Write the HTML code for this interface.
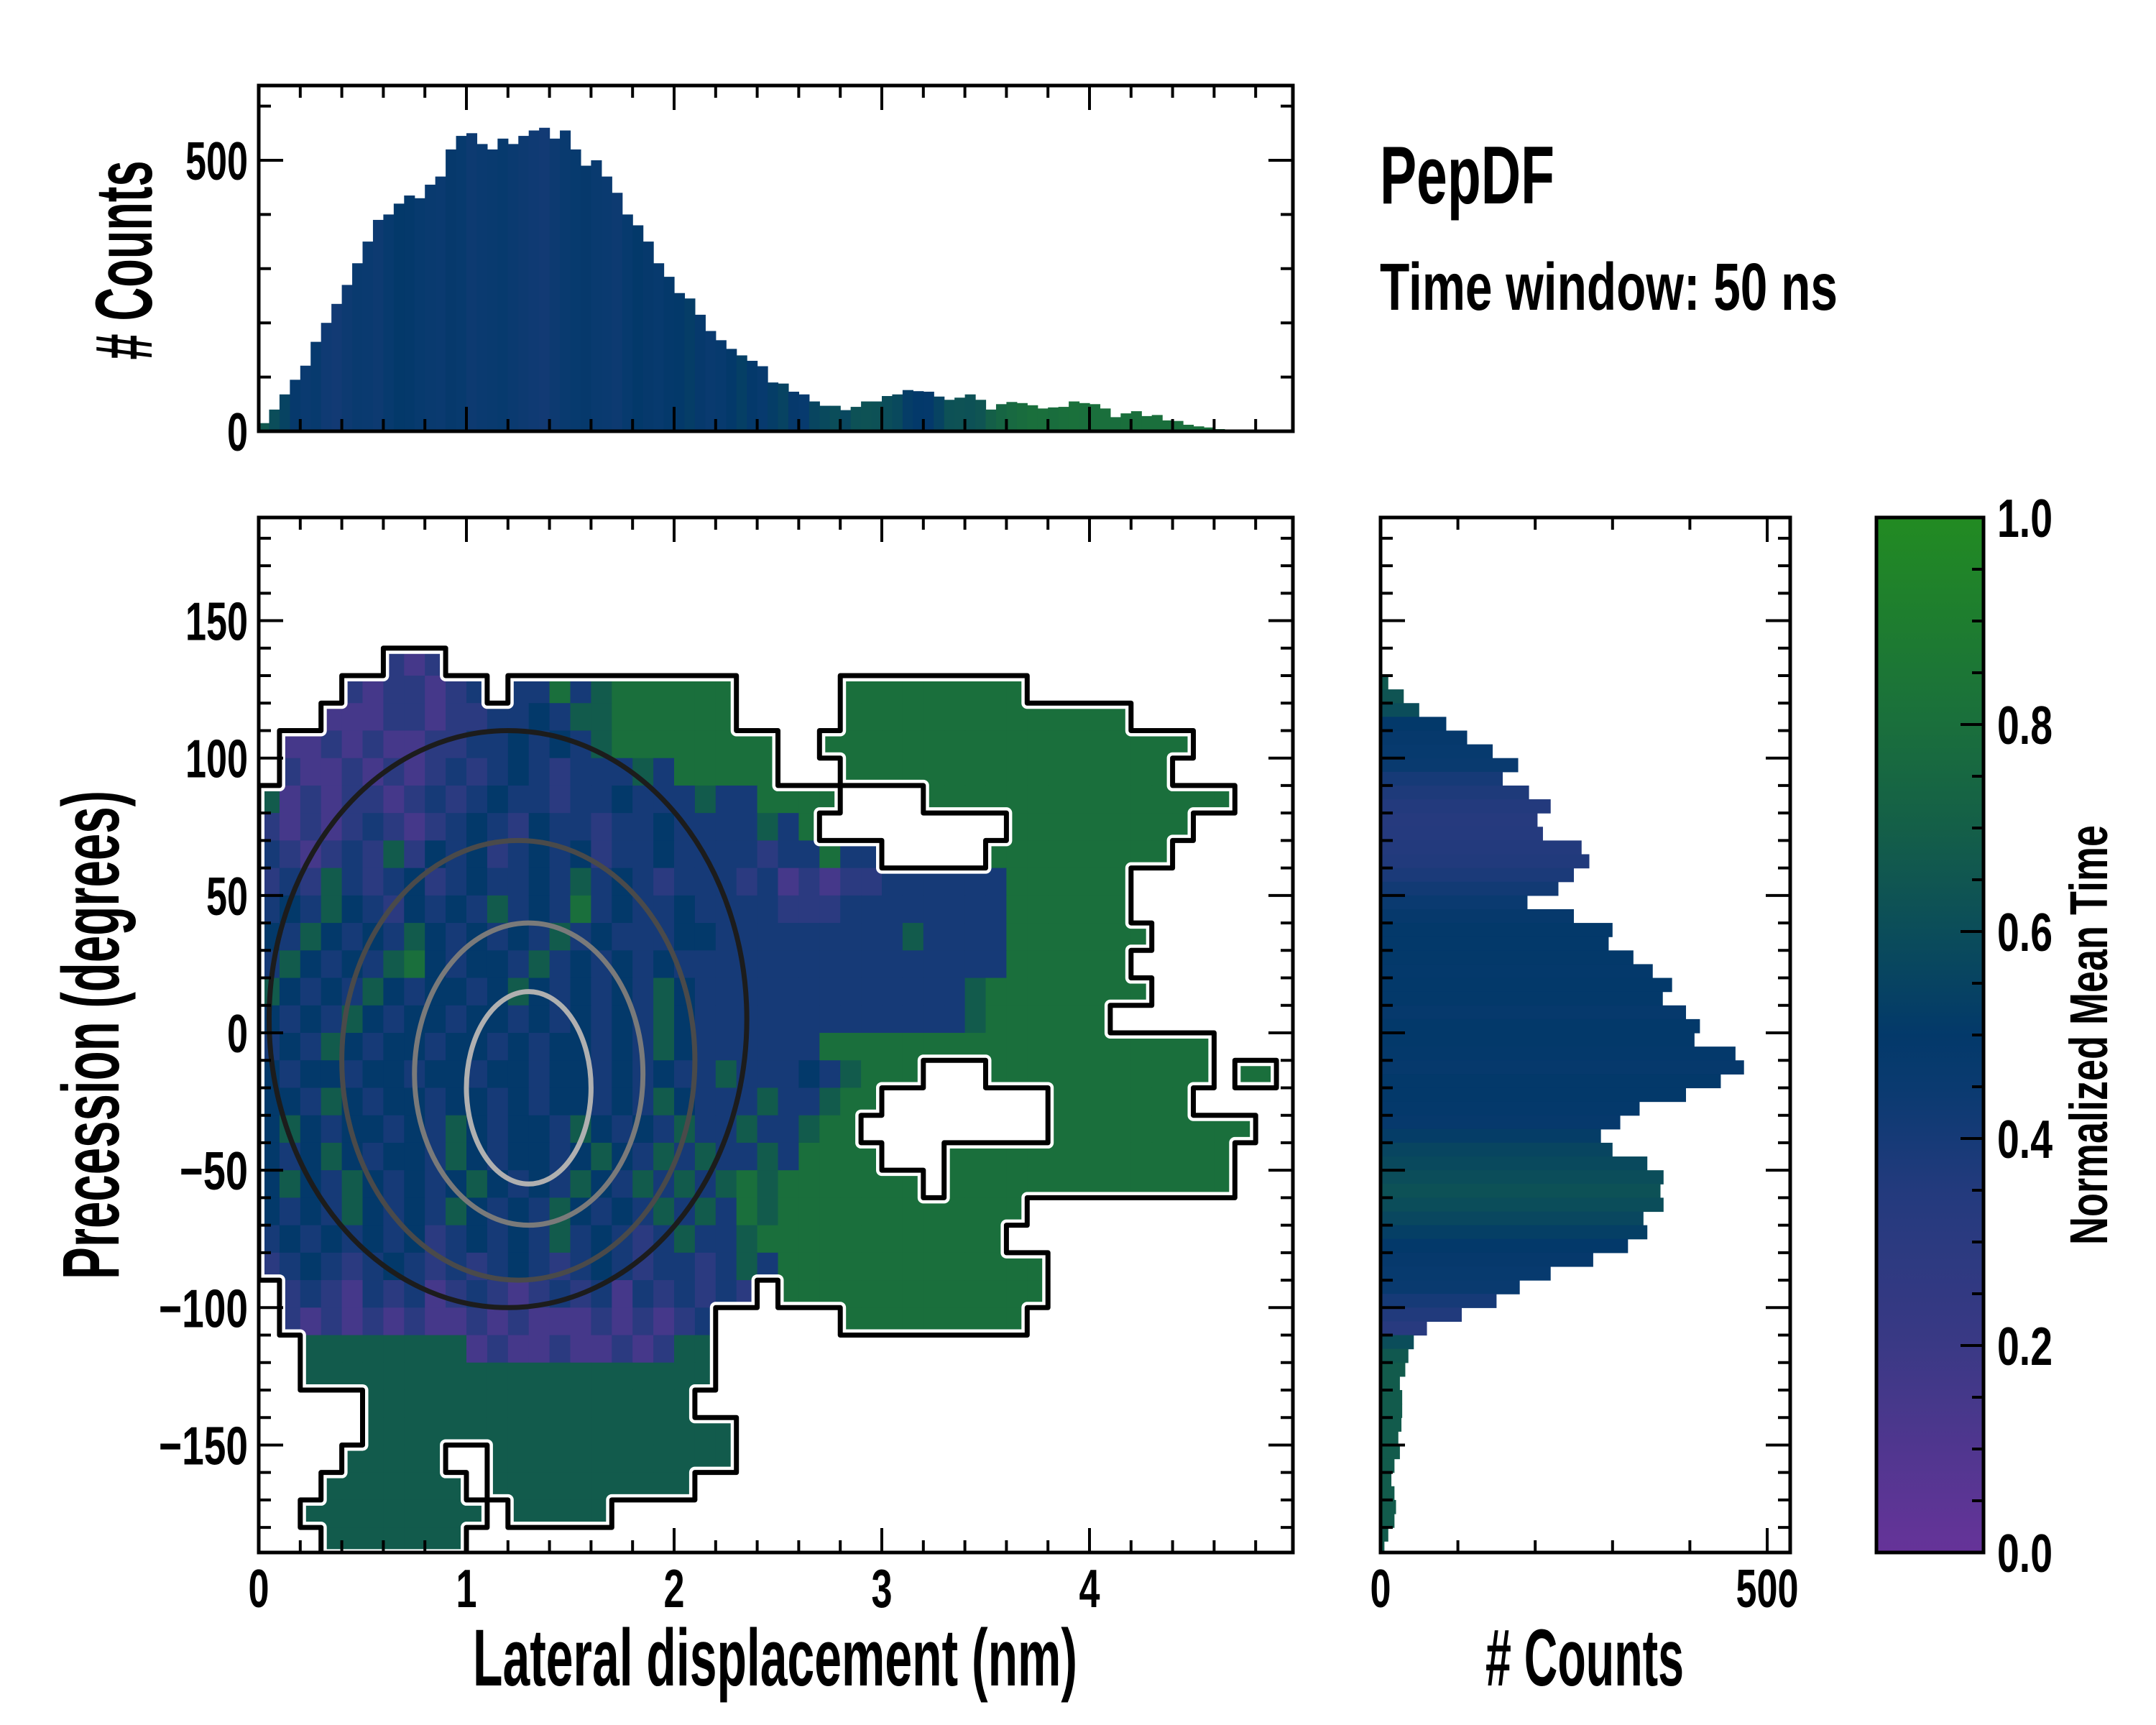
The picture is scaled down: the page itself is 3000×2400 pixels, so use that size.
<!DOCTYPE html>
<html><head><meta charset="utf-8"><title>PepDF</title>
<style>
html,body{margin:0;padding:0;background:#fff;}
svg{display:block;}
text{font-family:"Liberation Sans",sans-serif;font-weight:bold;fill:#000;}
</style></head>
<body>
<svg id="chart" xmlns="http://www.w3.org/2000/svg" width="3000" height="2400" viewBox="0 0 3000 2400">
<defs>
<clipPath id="mainClip"><rect x="360" y="720" width="1439" height="1440"/></clipPath>
<clipPath id="topClip"><rect x="360" y="119" width="1439" height="481"/></clipPath>
<clipPath id="rightClip"><rect x="1921" y="720" width="570" height="1440"/></clipPath>
<linearGradient id="cbGrad" x1="0" y1="1" x2="0" y2="0"></linearGradient>
</defs>
<rect x="0" y="0" width="3000" height="2400" fill="#fff"/>
</svg>
<script>
// ---------- DATA ----------
const topBinWidth = 0.05;
const topCounts = [15,40,68,95,121,165,200,235,270,310,350,390,400,420,435,430,455,470,520,545,
550,530,520,540,530,545,555,560,540,555,520,490,500,470,440,400,380,350,310,285,
255,245,215,185,168,152,140,130,120,90,88,73,68,55,47,47,39,45,55,55,
65,68,76,74,73,64,58,62,68,58,40,50,54,52,48,42,44,45,55,52,
50,42,26,33,37,28,30,20,19,12,9,7,4,2,1,1];
const topTime = [0.66,0.6,0.55,0.48,0.45,0.47,0.43,0.42,0.44,0.46,0.45,0.44,0.47,0.5,0.49,0.47,0.46,0.45,0.48,0.47,
0.44,0.45,0.46,0.47,0.45,0.44,0.43,0.42,0.44,0.46,0.47,0.48,0.46,0.45,0.44,0.47,0.5,0.48,0.47,0.49,
0.5,0.52,0.48,0.46,0.47,0.5,0.53,0.49,0.47,0.52,0.55,0.48,0.47,0.56,0.58,0.6,0.57,0.62,0.63,0.62,
0.6,0.58,0.52,0.5,0.49,0.55,0.62,0.63,0.62,0.64,0.7,0.74,0.76,0.78,0.8,0.8,0.79,0.8,0.81,0.8,
0.8,0.8,0.79,0.8,0.8,0.8,0.8,0.8,0.8,0.8,0.8,0.8,0.8,0.8,0.8,0.8];

const rightBinTop = 135;
const rightBinWidth = 5;
const rightCounts = [2,10,30,50,85,112,145,178,158,192,220,203,210,260,270,250,230,190,250,300,
295,327,352,377,365,395,413,406,459,470,440,395,335,310,285,300,345,366,362,366,
340,345,320,275,220,180,150,105,60,43,36,32,25,28,28,27,23,25,18,14,
18,20,18,10,5];
const rightTime = [0.68,0.66,0.64,0.6,0.5,0.48,0.47,0.46,0.4,0.37,0.35,0.33,0.34,0.35,0.36,0.38,0.42,0.45,0.48,0.5,
0.5,0.5,0.49,0.5,0.5,0.48,0.5,0.5,0.49,0.48,0.5,0.5,0.49,0.48,0.52,0.56,0.58,0.6,0.62,0.6,
0.57,0.53,0.5,0.48,0.47,0.46,0.4,0.36,0.32,0.6,0.66,0.68,0.68,0.68,0.68,0.68,0.68,0.68,0.68,0.68,
0.68,0.68,0.68,0.68,0.68];

const heatColWidth = 0.1;
const heatRowTop = 140;
const heatRowHeight = 10;
const levelKeys = ['p','v','b','n','t','g'];
const levelVals = [0.15,0.3,0.4,0.5,0.68,0.8];
const heatRows = [
"......vpv",
"....vpvvpvb.bbgbtgggggg.....ggggggggg",
"...pppvvpvvbbnbttgggggg.....gggggggggggggg",
".ppvpvppvvbbnbnbtgggggggg..gggggggggggggggggg",
".vppvpvpvbvbnbvbbbtbggggg...gggggggggggggggg",
"tpvpvvpvbvbnbbvbbnbbbtbbgggg....ggggggggggggggg",
"vpvpvbvpvbnbvnbbvbbnbbbbtbg.........ggggggggg",
"bvpvbvtvnbnvbnbnvbbnbbbbvbbgbb.....ggggggggg",
"vbvtbvbnvbnbbnbtbnbvbbbvbpvpvvbbbbbbgggggg",
"bnbtnbvnbnbtbnbgbnbbnbbbbvvvbbbbbbbbgggggg",
"nbtnbnbtnbnbnbtbnbbbnnbbbbbbbbbtbbbbggggggg",
"btnbnbtgnbnnbtbnbnbnbbbbbbbbbbbbbbbbgggggg",
"tnbnbtnbnnbntnbnbnbtnbbbbbbbbbbbbbtgggggggg",
"nbnbtnbnnbnnbnbnbnbtnbbbbbbbbbbbbbtgggggg",
"bnbtnbnnbnnbnbnnbnbtnbbbbbbggggggggggggggggggg",
"nbnnbnnbnnbnnbnnbnbnbbtbbbnbtggg...ggggggggggg.gg",
"nnbtnbnnbnnbnbnnbnbtnbbbtbbtgg........ggggggg",
"ntnbnnbnbtnbnnbtnbnbtbbtbbtgg.........gggggggggg",
"nbntnbnnbtnbnnbntnbtbtbbtbgggg...gggggggggggggg",
"ntnbtnbnbntnbnbtnbtbtbtgtggggggg.gggggggggggggg",
"nbnbtnbnbtnbnbtnbnbtbtbgtgggggggggggg",
"bnbnbnbnvbnbnbtbnbvbtbbtgggggggggggg",
"vbnbvbnbvbvbnbvbnbvbbvbtbggggggggggggg",
".vbvpbvbpvbvpvbvbpbvbvbv.ggggggggggggg",
".vpvpvpvppvpvpppvpvpvb......ggggggggg",
"..ttttttttpvppvppvpvtt",
"..tttttttttttttttttttt",
".....tttttttttttttttt",
".....tttttttttttttttttt",
"....ttttt..tttttttttttt",
"...ttttttt.tttttttttt",
"..ttttttttt.ttttt",
"...ttttttt"
];

// inner density contours (approximate ellipses around the core)
const contourCx = [1.2, 1.25, 1.3, 1.3];
const contourCy = [5, -10, -15, -20];
const contourRx = [1.15, 0.85, 0.55, 0.3];
const contourRy = [105, 80, 55, 35];
const contourShade = ['#1c1c1c','#4a4a4a','#7a7a7a','#b0b0b0'];

const xTickVals = [0,1,2,3,4];
const yTickVals = [150,100,50,0,-50,-100,-150];
const yTickLabels = ["150","100","50","0","\u221250","\u2212100","\u2212150"];
const topYTickVals = [0,500];
const rightXTickVals = [0,500];
const cbTickVals = [0,0.2,0.4,0.6,0.8,1.0];
const cbTickLabels = ["0.0","0.2","0.4","0.6","0.8","1.0"];

// ---------- SCALES ----------
const X = v => 360 + v*289;
const Y = d => 1437 - d*3.823;
const TY = c => 600 - c*0.754;
const RX = c => 1921 + c*1.076;
const CB = v => 2160 - v*1440;

const stops = [[0,[102,51,153]],[0.2,[58,57,133]],[0.35,[35,58,125]],[0.45,[10,58,112]],[0.5,[3,57,106]],
[0.6,[11,77,90]],[0.7,[20,95,72]],[0.8,[26,111,60]],[1,[34,139,34]]];
function cmap(v){
  v=Math.max(0,Math.min(1,v));
  for(let i=1;i<stops.length;i++){
    if(v<=stops[i][0]){
      const a=stops[i-1],b=stops[i],t=(v-a[0])/(b[0]-a[0]);
      const c=a[1].map((x,k)=>Math.round(x+(b[1][k]-x)*t));
      return 'rgb('+c.join(',')+')';
    }
  }
  return 'rgb(34,139,34)';
}

const NS='http://www.w3.org/2000/svg';
const svg=document.getElementById('chart');
function mk(tag,attrs,parent){const e=document.createElementNS(NS,tag);for(const k in attrs)e.setAttribute(k,attrs[k]);(parent||svg).appendChild(e);return e;}
function txt(s,attrs,parent){const e=mk('text',attrs,parent);e.textContent=s;return e;}

const grad=document.getElementById('cbGrad');
for(let i=0;i<=20;i++){const s=document.createElementNS(NS,'stop');s.setAttribute('offset',(i/20));s.setAttribute('stop-color',cmap(i/20));grad.appendChild(s);}

// ---------- TOP HISTOGRAM ----------
const gTop=mk('g',{'clip-path':'url(#topClip)'});


topCounts.forEach((c,i)=>{
  const x0=X(i*topBinWidth), x1=X((i+1)*topBinWidth);
  const r=mk('rect',{x:x0,y:TY(c),width:x1-x0+0.6,height:TY(0)-TY(c),fill:cmap(topTime[i])},gTop);
  
  
});

// ---------- HEATMAP ----------
const gHeat=mk('g',{'clip-path':'url(#mainClip)'});


const filled=(r,c)=>r>=0&&r<heatRows.length&&c>=0&&c<heatRows[r].length&&heatRows[r][c]!=='.';
let outline='';
heatRows.forEach((row,r)=>{
  for(let c=0;c<row.length;c++){
    const ch=row[c]; if(ch==='.') continue;
    const v=levelVals[levelKeys.indexOf(ch)];
    const x0=X(c*heatColWidth),x1=X((c+1)*heatColWidth);
    const yt=Y(heatRowTop-r*heatRowHeight),yb=Y(heatRowTop-(r+1)*heatRowHeight);
    const cell=mk('rect',{x:x0,y:yt,width:x1-x0+0.5,height:yb-yt+0.5,fill:cmap(v)},gHeat);
    
    
    if(!filled(r-1,c)) outline+=`M${x0},${yt}L${x1},${yt}`;
    if(!filled(r+1,c)) outline+=`M${x0},${yb}L${x1},${yb}`;
    if(!filled(r,c-1)) outline+=`M${x0},${yt}L${x0},${yb}`;
    if(!filled(r,c+1)) outline+=`M${x1},${yt}L${x1},${yb}`;
  }
});
contourCx.forEach((cx,i)=>{
  const e=mk('ellipse',{cx:X(cx),cy:Y(contourCy[i]),rx:contourRx[i]*289,ry:contourRy[i]*3.823,fill:'none',stroke:contourShade[i],'stroke-width':7},gHeat);
  
  
});
const halo=mk('path',{d:outline,stroke:'#fff',"stroke-width":16,fill:'none','stroke-linecap':'round'},gHeat);


const cont=mk('path',{d:outline,stroke:'#000',"stroke-width":7,fill:'none','stroke-linecap':'round'},gHeat);



// ---------- RIGHT HISTOGRAM ----------
const gRight=mk('g',{'clip-path':'url(#rightClip)'});


rightCounts.forEach((c,i)=>{
  const yt=Y(rightBinTop-i*rightBinWidth), yb=Y(rightBinTop-(i+1)*rightBinWidth);
  const r=mk('rect',{x:RX(0),y:yt,width:RX(c)-RX(0),height:yb-yt+0.6,fill:cmap(rightTime[i])},gRight);
  
  
});

// ---------- COLORBAR ----------
const cbr=mk('rect',{x:2611,y:720,width:149,height:1440,fill:'url(#cbGrad)',stroke:'#000','stroke-width':5});



// ---------- AXES FRAMES & TICKS ----------
function frame(x,y,w,h,name){const f=mk('rect',{x:x,y:y,width:w,height:h,fill:'none',stroke:'#000','stroke-width':5});}
frame(360,119,1439,481,'top-axes-frame');
frame(360,720,1439,1440,'main-axes-frame');
frame(1921,720,570,1440,'right-axes-frame');

let tk='';
function vt(x,y0,y1,len,dir){tk+=`M${x},${y0}L${x},${y0+dir*len}M${x},${y1}L${x},${y1-dir*len}`;}
function ht(y,x0,x1,len){tk+=`M${x0},${y}L${x0+len},${y}M${x1},${y}L${x1-len},${y}`;}
for(let k=0;k<=24;k++){const v=k*0.2;const maj=(k%5===0);const L=maj?34:17;const x=X(v);
  if(x>1797)continue;
  vt(x,600,119,L,-1); vt(x,2160,720,L,-1);}
for(let c=0;c<=600;c+=100){const L=(c%500===0)?34:17;ht(TY(c),360,1799,L);}
for(let d=-180;d<=180;d+=10){const L=(d%50===0)?34:17;ht(Y(d),360,1799,L);ht(Y(d),1921,2491,L);}
for(let c=0;c<=500;c+=100){const L=(c%500===0)?34:17;vt(RX(c),2160,720,L,-1);}
for(let k=0;k<=20;k++){const v=k*0.05;const L=(k%4===0)?32:16;const y=CB(v);if(k===0||k===20)continue;tk+=`M2760,${y}L${2760-L},${y}`;}
const ticks=mk('path',{d:tk,stroke:'#000','stroke-width':4,fill:'none'});



// ---------- TICK LABELS ----------
const FS=75, CW=29;
xTickVals.forEach(v=>{const t=txt(String(v),{x:X(v),y:2236,'font-size':FS,'text-anchor':'middle',textLength:CW,lengthAdjust:'spacingAndGlyphs'});
  });
yTickVals.forEach((v,i)=>{const s=yTickLabels[i];const t=txt(s,{x:345,y:Y(v)+27,'font-size':FS,'text-anchor':'end',textLength:s.length*CW+(s[0]==='\u2212'?8:0),lengthAdjust:'spacingAndGlyphs'});
  });
topYTickVals.forEach(v=>{const s=String(v);const t=txt(s,{x:345,y:TY(v)+27,'font-size':FS,'text-anchor':'end',textLength:s.length*CW,lengthAdjust:'spacingAndGlyphs'});
  });
rightXTickVals.forEach(v=>{const s=String(v);const t=txt(s,{x:RX(v),y:2236,'font-size':FS,'text-anchor':'middle',textLength:s.length*CW,lengthAdjust:'spacingAndGlyphs'});
  });
cbTickVals.forEach((v,i)=>{const s=cbTickLabels[i];const t=txt(s,{x:2779,y:CB(v)+27,'font-size':FS,textLength:77,lengthAdjust:'spacingAndGlyphs'});
  });

// ---------- TITLES ----------
let t;
t=txt('Lateral displacement (nm)',{x:658,y:2345,'font-size':112,textLength:841,lengthAdjust:'spacingAndGlyphs'});

t=txt('# Counts',{x:2067,y:2345,'font-size':112,textLength:276,lengthAdjust:'spacingAndGlyphs'});

t=txt('Precession (degrees)',{x:0,y:0,'font-size':112,'text-anchor':'middle',textLength:680,lengthAdjust:'spacingAndGlyphs',transform:'translate(165,1440) rotate(-90)'});

t=txt('# Counts',{x:0,y:0,'font-size':112,'text-anchor':'middle',textLength:277,lengthAdjust:'spacingAndGlyphs',transform:'translate(211,362) rotate(-90)'});

t=txt('Normalized Mean Time',{x:0,y:0,'font-size':74,'text-anchor':'middle',textLength:584,lengthAdjust:'spacingAndGlyphs',transform:'translate(2932,1440) rotate(-90)'});

t=txt('PepDF',{x:1920,y:283,'font-size':114,textLength:243,lengthAdjust:'spacingAndGlyphs'});

t=txt('Time window: 50 ns',{x:1920,y:431,'font-size':93,textLength:637,lengthAdjust:'spacingAndGlyphs'});

</script>
</body></html>
